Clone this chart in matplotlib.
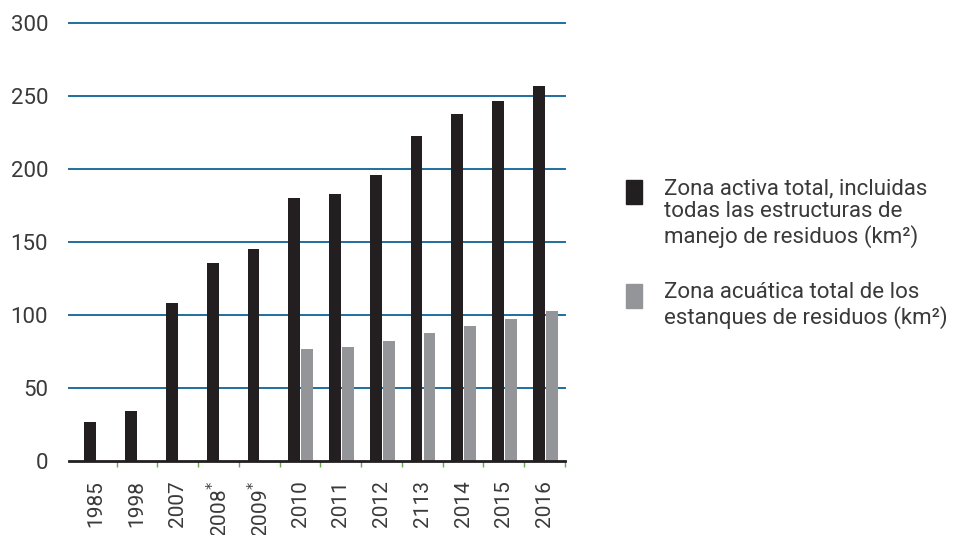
import matplotlib
matplotlib.use("Agg")
import numpy as np
import matplotlib.pyplot as plt
from matplotlib.patches import Rectangle

years = ["1985", "1998", "2007", "2008$^{*}$", "2009$^{*}$", "2010", "2011",
         "2012", "2113", "2014", "2015", "2016"]
zona_activa = [27, 34, 108, 136, 145, 180, 183, 196, 223, 238, 247, 257]
zona_acuatica = [0, 0, 0, 0, 0, 77, 78, 82, 88, 92.5, 97, 103]
yticks = [0, 50, 100, 150, 200, 250, 300]

BLACK = "#231f20"
GRAY = "#939598"
BLUE = "#1f6f9f"
GREEN = "#6aa84f"
TXT = "#3a3a3a"

fig = plt.figure(figsize=(9.69, 5.35), dpi=100)
ax = fig.add_axes([69/969, 74/535, 496/969, 437.7/535])

x = np.arange(len(years))
w = 0.29
ax.bar(x - w, zona_activa, width=w, align="edge", color=BLACK, zorder=3)
acu = np.array(zona_acuatica)
mask = acu > 0
ax.bar(x[mask] + 0.03, acu[mask], width=w, align="edge", color=GRAY, zorder=3)

for v in yticks[1:]:
    ax.axhline(v, color=BLUE, lw=1.4, zorder=1, clip_on=False)

ax.set_xlim(-0.67, 11.5)
ax.set_ylim(0, 300)

for s in ["top", "right", "left"]:
    ax.spines[s].set_visible(False)
ax.spines["bottom"].set_color(BLACK)
ax.spines["bottom"].set_linewidth(2)
ax.spines["bottom"].set_zorder(5)

ax.set_yticks(yticks)
ax.set_yticklabels([str(v) for v in yticks], fontsize=16, color=TXT,
                   family="Roboto")
ax.tick_params(axis="y", length=0, pad=15)

ax.set_xticks(x)
ax.set_xticklabels(years, rotation=90, fontsize=15, color=TXT, family="Roboto")
ax.tick_params(axis="x", which="major", length=0, pad=14)
ax.set_xticks(x + 0.5, minor=True)
ax.tick_params(axis="x", which="minor", length=4, width=1, color=GREEN)

# legend drawn by hand so the square sits on the first line
legend_items = [
    (BLACK, "Zona activa total, incluidas\ntodas las estructuras de\nmanejo de residuos (km²)", 180),
    (GRAY, "Zona acuática total de los\nestanques de residuos (km²)", 284),
]
for col, label, ytop in legend_items:
    fig.patches.append(Rectangle((626/969, 1 - (ytop + 24)/535), 16/969, 24/535,
                                 transform=fig.transFigure, color=col))
    fig.text(664/969, 1 - (ytop - 2)/535, label, fontsize=16, color=TXT,
             family="Roboto", va="top", ha="left", linespacing=1.15)

fig.savefig("out.png", dpi=100)
